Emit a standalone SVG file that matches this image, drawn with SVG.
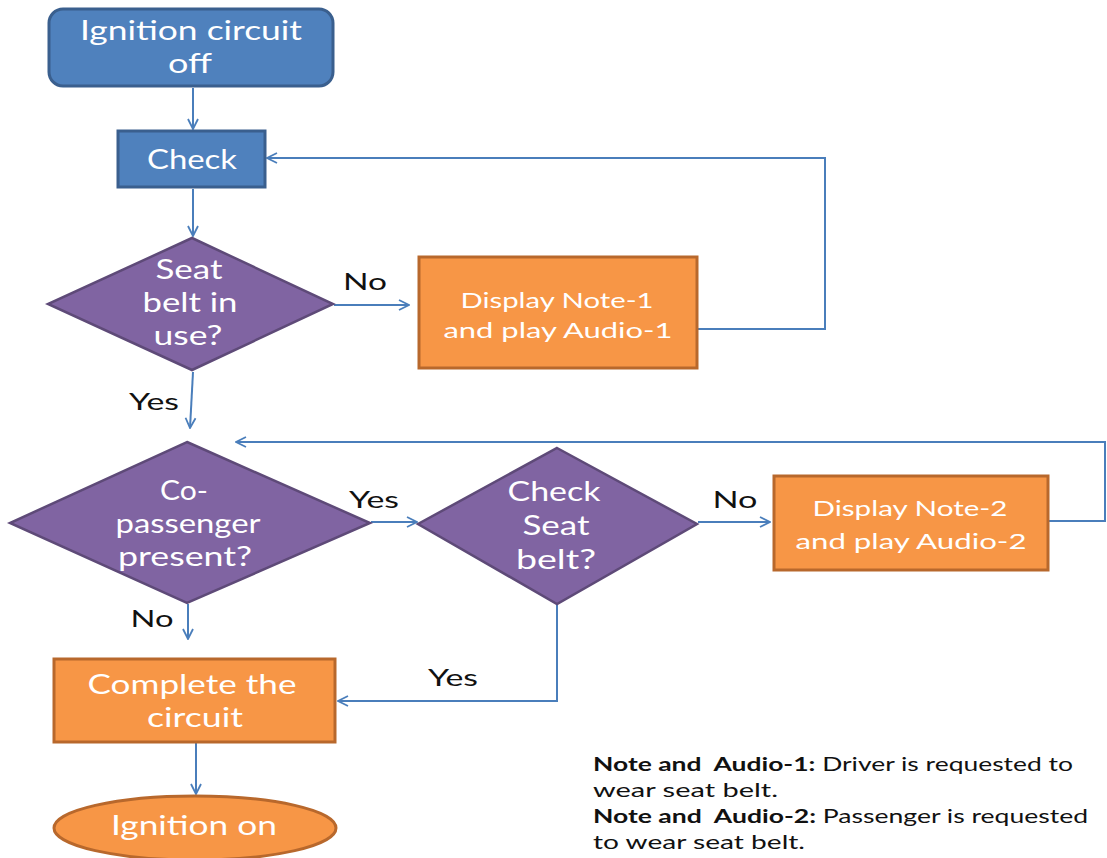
<svg xmlns="http://www.w3.org/2000/svg" width="1107" height="858" viewBox="0 0 1107 858">
  <style>
    .blue { fill: #4F81BD; stroke: #3A5F8E; stroke-width: 3; }
    .purple { fill: #8064A2; stroke: #5E4A78; stroke-width: 2.5; }
    .orange { fill: #F79646; stroke: #B8682C; stroke-width: 3; }
    .in { font-family: Lato, "Open Sans", sans-serif; fill: #FFFFFF; text-anchor: middle; }
    .lbl { font-family: Lato, "Open Sans", sans-serif; fill: #111111; font-size: 24px; text-anchor: middle; }
    .note { font-family: Lato, "Open Sans", sans-serif; fill: #111111; font-size: 19px; }
    .conn { fill: none; stroke: #4A7EBB; stroke-width: 2; }
  </style>
  <defs>
    <marker id="arrow" viewBox="0 0 12 12" refX="11" refY="6" markerWidth="12" markerHeight="12" markerUnits="userSpaceOnUse" orient="auto">
      <path d="M1,1 L11,6 L1,11" fill="none" stroke="#4A7EBB" stroke-width="1.8"/>
    </marker>
  </defs>

  <rect width="1107" height="858" fill="#FFFFFF"/>

  <!-- connectors -->
  <g id="connectors">
    <path class="conn" d="M193,88 L193,129" marker-end="url(#arrow)"/>
    <path class="conn" d="M193,189 L193,236" marker-end="url(#arrow)"/>
    <path class="conn" d="M334,305 L409,305" marker-end="url(#arrow)"/>
    <path class="conn" d="M698,329 L825,329 L825,158 L267,158" marker-end="url(#arrow)"/>
    <path class="conn" d="M193,372 L190,428" marker-end="url(#arrow)"/>
    <path class="conn" d="M371,522 L417,522" marker-end="url(#arrow)"/>
    <path class="conn" d="M698,522 L770,522" marker-end="url(#arrow)"/>
    <path class="conn" d="M1049,521 L1105,521 L1105,442 L236,442" marker-end="url(#arrow)"/>
    <path class="conn" d="M188,604 L188,639" marker-end="url(#arrow)"/>
    <path class="conn" d="M557,605 L557,701 L338,701" marker-end="url(#arrow)"/>
    <path class="conn" d="M196,743 L196,794" marker-end="url(#arrow)"/>
  </g>

  <!-- connector labels -->
  <g id="labels" lengthAdjust="spacingAndGlyphs">
    <text class="lbl" x="365" y="290" textLength="44" lengthAdjust="spacingAndGlyphs">No</text>
    <text class="lbl" x="154" y="410" textLength="50" lengthAdjust="spacingAndGlyphs">Yes</text>
    <text class="lbl" x="374" y="508" textLength="50" lengthAdjust="spacingAndGlyphs">Yes</text>
    <text class="lbl" x="735" y="508" textLength="45" lengthAdjust="spacingAndGlyphs">No</text>
    <text class="lbl" x="152" y="627" textLength="43" lengthAdjust="spacingAndGlyphs">No</text>
    <text class="lbl" x="453" y="686" textLength="50" lengthAdjust="spacingAndGlyphs">Yes</text>
  </g>

  <g id="start">
    <rect class="blue" x="49" y="9" width="284" height="77" rx="14"/>
    <text class="in" x="191" y="40" font-size="27" textLength="222" lengthAdjust="spacingAndGlyphs">Ignition circuit</text>
    <text class="in" x="190" y="73" font-size="27" textLength="44" lengthAdjust="spacingAndGlyphs">off</text>
  </g>

  <g id="check">
    <rect class="blue" x="118" y="131" width="147" height="56"/>
    <text class="in" x="192" y="169" font-size="27" textLength="90" lengthAdjust="spacingAndGlyphs">Check</text>
  </g>

  <g id="seatbelt">
    <polygon class="purple" points="192,238 333,304 192,370 48,304"/>
    <text class="in" x="189" y="279" font-size="27" textLength="67" lengthAdjust="spacingAndGlyphs">Seat</text>
    <text class="in" x="190" y="312" font-size="27" textLength="95" lengthAdjust="spacingAndGlyphs">belt in</text>
    <text class="in" x="188" y="345" font-size="27" textLength="69" lengthAdjust="spacingAndGlyphs">use?</text>
  </g>

  <g id="note1">
    <rect class="orange" x="419" y="257" width="278" height="111"/>
    <text class="in" x="557" y="308" font-size="22" textLength="193" lengthAdjust="spacingAndGlyphs">Display Note-1</text>
    <text class="in" x="558" y="338" font-size="22" textLength="229" lengthAdjust="spacingAndGlyphs">and play Audio-1</text>
  </g>

  <g id="copassenger">
    <polygon class="purple" points="187,442 370,523 187,603 10,523"/>
    <text class="in" x="184" y="500" font-size="27" textLength="48" lengthAdjust="spacingAndGlyphs">Co-</text>
    <text class="in" x="188" y="533" font-size="27" textLength="145" lengthAdjust="spacingAndGlyphs">passenger</text>
    <text class="in" x="185" y="566" font-size="27" textLength="134" lengthAdjust="spacingAndGlyphs">present?</text>
  </g>

  <g id="checkseatbelt">
    <polygon class="purple" points="557,448 697,524 557,604 418,524"/>
    <text class="in" x="554" y="501" font-size="27" textLength="93" lengthAdjust="spacingAndGlyphs">Check</text>
    <text class="in" x="556" y="535" font-size="27" textLength="67" lengthAdjust="spacingAndGlyphs">Seat</text>
    <text class="in" x="556" y="569" font-size="27" textLength="80" lengthAdjust="spacingAndGlyphs">belt?</text>
  </g>

  <g id="note2">
    <rect class="orange" x="774" y="476" width="274" height="94"/>
    <text class="in" x="910" y="516" font-size="22" textLength="195" lengthAdjust="spacingAndGlyphs">Display Note-2</text>
    <text class="in" x="911" y="549" font-size="22" textLength="231" lengthAdjust="spacingAndGlyphs">and play Audio-2</text>
  </g>

  <g id="complete">
    <rect class="orange" x="54" y="659" width="281" height="83"/>
    <text class="in" x="192" y="694" font-size="27" textLength="209" lengthAdjust="spacingAndGlyphs">Complete the</text>
    <text class="in" x="195" y="727" font-size="27" textLength="96" lengthAdjust="spacingAndGlyphs">circuit</text>
  </g>

  <g id="end">
    <ellipse class="orange" cx="195" cy="828" rx="141" ry="32"/>
    <text class="in" x="194" y="835" font-size="27" textLength="166" lengthAdjust="spacingAndGlyphs">Ignition on</text>
  </g>

  <g id="legend">
    <text class="note" x="593" y="771" textLength="480" lengthAdjust="spacingAndGlyphs"><tspan font-weight="bold" xml:space="preserve">Note and  Audio-1:</tspan> Driver is requested to</text>
    <text class="note" x="593" y="797" textLength="185" lengthAdjust="spacingAndGlyphs">wear seat belt.</text>
    <text class="note" x="593" y="823" textLength="495" lengthAdjust="spacingAndGlyphs"><tspan font-weight="bold" xml:space="preserve">Note and  Audio-2:</tspan> Passenger is requested</text>
    <text class="note" x="593" y="849" textLength="212" lengthAdjust="spacingAndGlyphs">to wear seat belt.</text>
  </g>
</svg>
